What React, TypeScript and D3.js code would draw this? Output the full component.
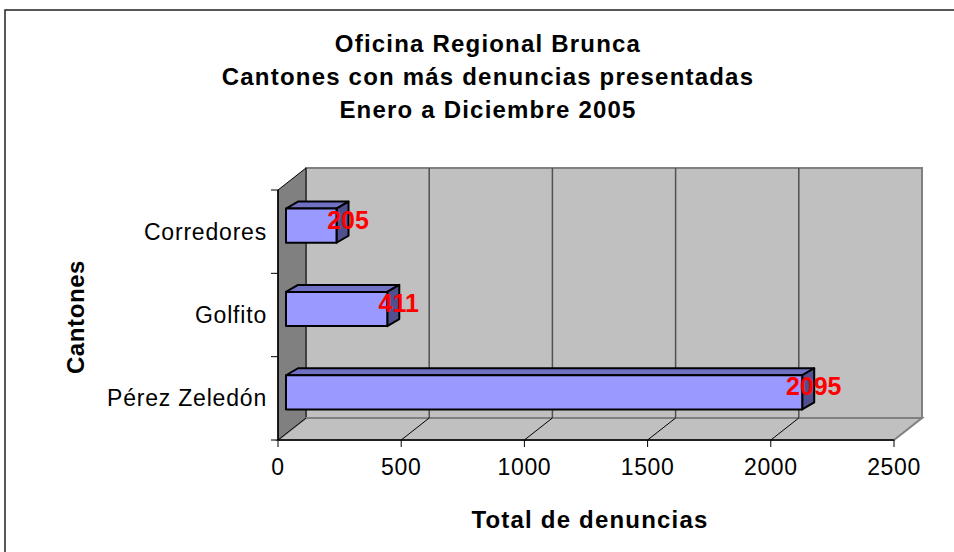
import React from "react";
import * as d3 from "d3";

const titleLines = [
  "Oficina Regional Brunca",
  "Cantones con más denuncias presentadas",
  "Enero a Diciembre 2005",
];
const cantones = ["Corredores", "Golfito", "Pérez Zeledón"];
const denuncias = [205, 411, 2095];
const xTicks = [0, 500, 1000, 1500, 2000, 2500];
const xTitle = "Total de denuncias";
const yTitle = "Cantones";

const FONT = "'Liberation Sans', Arial, sans-serif";

export default function App() {
  // front plane of the 3d box
  const left = 278;
  const right = 894;
  const top = 190;
  const bottom = 440;
  // wall depth offset
  const dx = 28;
  const dy = -22;
  // bar placement inside the depth
  const bOff = { x: 8, y: -6 };
  const bDepth = { x: 12, y: -7 };

  const x = d3.scaleLinear().domain([0, 2500]).range([left, right]);
  const y = d3.scaleBand().domain(cantones).range([top, bottom]);
  const barH = y.bandwidth() * 0.41;

  const pts = (arr: number[][]) => arr.map((p) => p.join(",")).join(" ");

  return (
    <svg
      width={954}
      height={552}
      style={{ position: "absolute", left: 0, top: 0, background: "#fff" }}
      fontFamily={FONT}
    >
      <rect x={5} y={10} width={1000} height={600} fill="#fff" stroke="#222" strokeWidth={1.5} />

      {titleLines.map((t, i) => (
        <text
          key={t}
          x={488}
          y={52 + i * 33}
          textAnchor="middle"
          fontSize={24}
          fontWeight="bold"
          letterSpacing={1.2}
        >
          {t}
        </text>
      ))}

      {/* back wall */}
      <rect
        x={left + dx}
        y={top + dy}
        width={right - left}
        height={bottom - top}
        fill="#c0c0c0"
        stroke="#808080"
        strokeWidth={2}
      />
      {/* left wall */}
      <polygon
        points={pts([
          [left, top],
          [left + dx, top + dy],
          [left + dx, bottom + dy],
          [left, bottom],
        ])}
        fill="#808080"
        stroke="#000"
        strokeWidth={1}
      />
      {/* floor */}
      <polygon
        points={pts([
          [left, bottom],
          [left + dx, bottom + dy],
          [right + dx, bottom + dy],
          [right, bottom],
        ])}
        fill="#c0c0c0"
        stroke="#808080"
        strokeWidth={2}
      />
      {/* grid lines */}
      {xTicks.slice(1, -1).map((v) => (
        <g key={v}>
          <line
            x1={x(v) + dx}
            x2={x(v) + dx}
            y1={top + dy}
            y2={bottom + dy}
            stroke="#505050"
            strokeWidth={1.5}
          />
          <line x1={x(v) + dx} x2={x(v)} y1={bottom + dy} y2={bottom} stroke="#000" strokeWidth={1} />
        </g>
      ))}
      <line x1={left} x2={left + dx} y1={bottom} y2={bottom + dy} stroke="#000" strokeWidth={1} />
      <line x1={left} x2={left} y1={top} y2={bottom} stroke="#000" strokeWidth={1.5} />
      <line x1={left} x2={right} y1={bottom} y2={bottom} stroke="#000" strokeWidth={1.5} />

      {/* ticks */}
      {xTicks.map((v) => (
        <g key={v}>
          <line x1={x(v)} x2={x(v)} y1={bottom} y2={bottom + 7} stroke="#000" strokeWidth={1} />
          <text x={x(v)} y={475} textAnchor="middle" fontSize={23} letterSpacing={0.6}>
            {v}
          </text>
        </g>
      ))}
      {[...cantones.map((c) => y(c) as number), bottom].map((v, i) => (
        <line key={i} x1={left - 7} x2={left} y1={v} y2={v} stroke="#000" strokeWidth={1} />
      ))}
      {cantones.map((c) => (
        <text
          key={c}
          x={267}
          y={(y(c) as number) + y.bandwidth() / 2 + 8}
          textAnchor="end"
          fontSize={23}
          letterSpacing={0.8}
        >
          {c}
        </text>
      ))}

      {/* bars */}
      {cantones.map((c, i) => {
        const x0 = x(0) + bOff.x;
        const x1 = x(denuncias[i]) + bOff.x;
        const cy = (y(c) as number) + y.bandwidth() / 2 + bOff.y;
        const y0 = cy - barH / 2;
        const y1 = cy + barH / 2;
        return (
          <g key={c} stroke="#000" strokeWidth={2} strokeLinejoin="round">
            <polygon
              points={pts([
                [x0, y0],
                [x0 + bDepth.x, y0 + bDepth.y],
                [x1 + bDepth.x, y0 + bDepth.y],
                [x1, y0],
              ])}
              fill="#7070c4"
            />
            <polygon
              points={pts([
                [x1, y0],
                [x1 + bDepth.x, y0 + bDepth.y],
                [x1 + bDepth.x, y1 + bDepth.y],
                [x1, y1],
              ])}
              fill="#50508e"
            />
            <rect x={x0} y={y0} width={x1 - x0} height={y1 - y0} fill="#9999ff" />
          </g>
        );
      })}
      {cantones.map((c, i) => (
        <text
          key={c}
          x={x(denuncias[i]) + bOff.x + 11.5}
          y={(y(c) as number) + y.bandwidth() / 2 - 3}
          textAnchor="middle"
          fontSize={25}
          fontWeight="bold"
          fill="#ff0000"
        >
          {denuncias[i]}
        </text>
      ))}

      <text
        x={590}
        y={528}
        textAnchor="middle"
        fontSize={24}
        fontWeight="bold"
        letterSpacing={1.2}
      >
        {xTitle}
      </text>
      <text
        transform="translate(84,317) rotate(-90)"
        textAnchor="middle"
        fontSize={24}
        fontWeight="bold"
        letterSpacing={0.6}
      >
        {yTitle}
      </text>
    </svg>
  );
}
